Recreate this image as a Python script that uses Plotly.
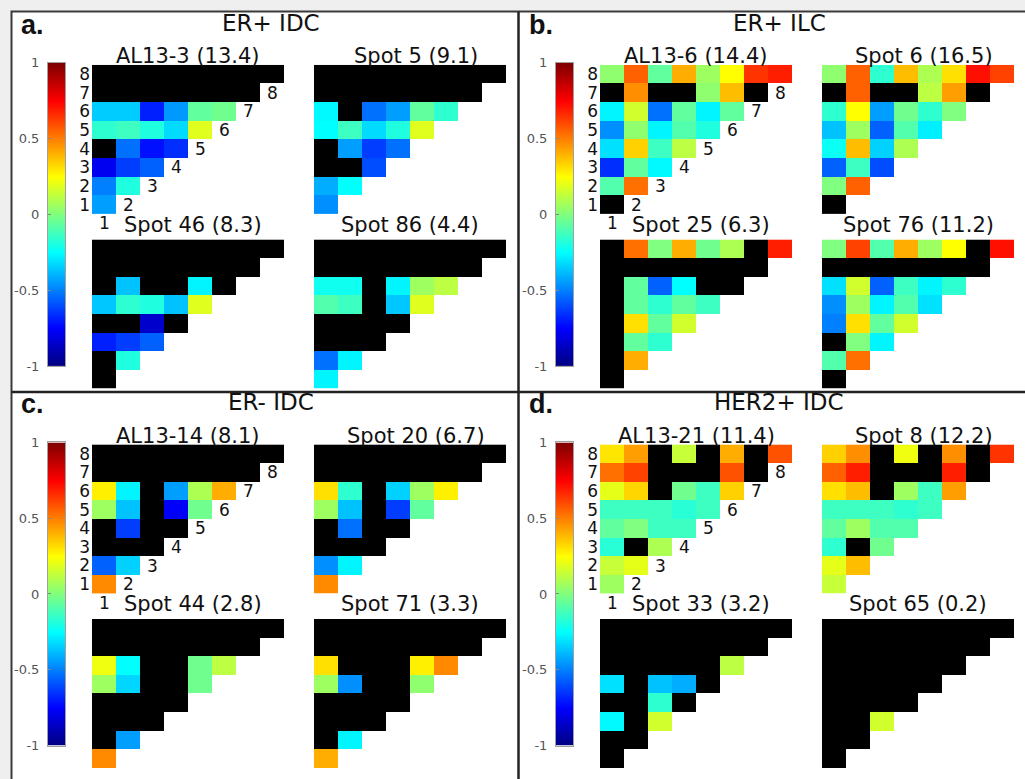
import plotly.graph_objects as go

NS = None  # non-significant pair, drawn in black

# ---------------------------------------------------------------
# Correlation matrices: rows listed from 8 (top) down to 1 (bottom);
# row r holds columns 1..r.
# ---------------------------------------------------------------

# a. ER+ IDC
AL13_3 = [
    [NS] * 8,
    [NS] * 7,
    [-0.35, -0.35, -0.69, -0.45, -0.06, -0.03],
    [-0.16, -0.13, -0.19, -0.32, 0.19],
    [NS, -0.53, -0.72, -0.66],
    [-0.78, -0.63, -0.56],
    [-0.50, -0.19],
    [-0.44],
]
SPOT_5 = [
    [NS] * 8,
    [NS] * 7,
    [-0.26, NS, -0.53, -0.44, -0.06, -0.16],
    [-0.25, -0.13, -0.32, -0.19, 0.19],
    [NS, -0.44, -0.63, -0.53],
    [NS, NS, -0.60],
    [-0.41, -0.25],
    [-0.47],
]
SPOT_46 = [
    [NS] * 8,
    [NS] * 7,
    [NS, -0.37, NS, NS, -0.27, NS],
    [-0.36, -0.16, -0.19, -0.37, 0.19],
    [NS, NS, -0.85, NS],
    [-0.69, -0.63, -0.56],
    [NS, -0.19],
    [NS],
]
SPOT_86 = [
    [NS] * 8,
    [NS] * 7,
    [-0.22, -0.22, NS, -0.27, 0.06, 0.12],
    [-0.09, -0.13, NS, -0.36, 0.19],
    [NS, NS, NS, NS],
    [NS, NS, NS],
    [-0.53, -0.27],
    [-0.27],
]

# b. ER+ ILC
AL13_6 = [
    [0.03, 0.56, -0.06, 0.41, 0.06, 0.25, 0.65, 0.69],
    [NS, 0.47, NS, NS, 0.03, 0.38, NS],
    [-0.27, 0.16, -0.53, -0.06, -0.27, -0.06],
    [-0.47, 0.03, -0.27, -0.09, -0.19],
    [-0.31, 0.34, -0.13, 0.12],
    [-0.66, -0.06, -0.26],
    [-0.09, 0.53],
    [NS],
]
SPOT_6 = [
    [0.03, 0.56, -0.16, 0.38, 0.09, 0.31, 0.72, 0.62],
    [NS, 0.56, NS, NS, 0.12, 0.44, NS],
    [-0.16, 0.25, -0.44, -0.03, -0.16, 0.00],
    [-0.37, 0.06, -0.56, -0.09, -0.28],
    [-0.23, 0.38, -0.34, 0.09],
    [-0.56, -0.13, -0.60],
    [0.00, 0.56],
    [NS],
]
SPOT_25 = [
    [NS, 0.53, 0.00, 0.41, -0.03, 0.09, NS, 0.69],
    [NS] * 7,
    [NS, -0.06, -0.56, -0.25, NS, NS],
    [NS, -0.06, -0.16, -0.06, -0.13],
    [NS, 0.31, -0.06, 0.16],
    [NS, -0.06, -0.16],
    [NS, 0.41],
    [NS],
]
SPOT_76 = [
    [0.00, 0.62, -0.09, 0.41, 0.06, 0.25, NS, 0.72],
    [NS] * 7,
    [-0.31, 0.16, -0.56, -0.13, -0.27, -0.16],
    [-0.47, 0.06, -0.27, -0.09, -0.31],
    [-0.50, 0.31, -0.06, 0.16],
    [NS, 0.00, -0.27],
    [-0.09, 0.53],
    [NS],
]

# c. ER- IDC
AL13_14 = [
    [NS] * 8,
    [NS] * 7,
    [0.28, -0.27, NS, -0.44, 0.09, 0.41],
    [0.06, -0.37, NS, -0.76, -0.03],
    [NS, -0.63, NS, NS],
    [NS, NS, NS],
    [-0.56, -0.34],
    [0.48],
]
SPOT_20 = [
    [NS] * 8,
    [NS] * 7,
    [0.31, -0.16, NS, -0.34, 0.06, 0.28],
    [0.06, -0.37, NS, -0.63, -0.06],
    [NS, -0.53, NS, NS],
    [NS, NS, NS],
    [-0.47, -0.27],
    [0.48],
]
SPOT_44 = [
    [NS] * 8,
    [NS] * 7,
    [0.22, -0.25, NS, NS, -0.03, 0.12],
    [0.06, -0.33, NS, NS, -0.03],
    [NS, NS, NS, NS],
    [NS, NS, NS],
    [NS, -0.44],
    [0.48],
]
SPOT_71 = [
    [NS] * 8,
    [NS] * 7,
    [0.31, NS, NS, NS, 0.28, 0.48],
    [0.06, -0.47, NS, NS, 0.03],
    [NS, NS, NS, NS],
    [NS, NS, NS],
    [NS, -0.27],
    [0.41],
]

# d. HER2+ IDC
AL13_21 = [
    [0.30, 0.44, NS, 0.14, NS, 0.41, NS, 0.59],
    [0.53, 0.62, NS, NS, NS, 0.59, NS],
    [0.20, 0.33, NS, -0.03, -0.13, 0.34],
    [-0.13, -0.13, -0.13, -0.17, -0.13],
    [-0.06, 0.00, -0.13, -0.13],
    [-0.17, NS, 0.09],
    [0.14, 0.20],
    [0.06],
]
SPOT_8 = [
    [0.34, 0.47, NS, 0.22, NS, 0.47, NS, 0.65],
    [0.56, 0.69, NS, NS, NS, 0.69, NS],
    [0.31, 0.38, NS, 0.06, -0.13, 0.44],
    [-0.13, -0.13, -0.13, -0.16, -0.13],
    [-0.06, 0.06, -0.09, -0.09],
    [-0.16, NS, -0.03],
    [0.20, 0.38],
    [0.14],
]
SPOT_33 = [
    [NS] * 8,
    [NS] * 7,
    [NS, NS, NS, NS, NS, 0.12],
    [-0.31, NS, -0.37, -0.41, NS],
    [NS, NS, -0.16, NS],
    [-0.26, NS, 0.16],
    [NS, NS],
    [NS],
]
SPOT_65 = [
    [NS] * 8,
    [NS] * 7,
    [NS] * 6,
    [NS] * 5,
    [NS] * 4,
    [NS, NS, 0.16],
    [NS, NS],
    [NS],
]

PANEL_LABELS = ["a.", "b.", "c.", "d."]
PANEL_TITLES = ["ER+ IDC", "ER+ ILC", "ER- IDC", "HER2+ IDC"]
SAMPLE_NAMES = [
    ["AL13-3", "Spot 5", "Spot 46", "Spot 86"],
    ["AL13-6", "Spot 6", "Spot 25", "Spot 76"],
    ["AL13-14", "Spot 20", "Spot 44", "Spot 71"],
    ["AL13-21", "Spot 8", "Spot 33", "Spot 65"],
]
SAMPLE_SCORES = [
    [13.4, 9.1, 8.3, 4.4],
    [14.4, 16.5, 6.3, 11.2],
    [8.1, 6.7, 2.8, 3.3],
    [11.4, 12.2, 3.2, 0.2],
]
MATRICES = [
    [AL13_3, SPOT_5, SPOT_46, SPOT_86],
    [AL13_6, SPOT_6, SPOT_25, SPOT_76],
    [AL13_14, SPOT_20, SPOT_44, SPOT_71],
    [AL13_21, SPOT_8, SPOT_33, SPOT_65],
]
INDICES = [1, 2, 3, 4, 5, 6, 7, 8]
CBAR_LIMITS = [-1, 1]
CBAR_TICKS = [-1, -0.5, 0, 0.5, 1]
CBAR_TICKTEXT = ["-1", "-0.5", "0", "0.5", "1"]

# MATLAB-style jet colormap
JET = [
    [0.0, "#000080"],
    [0.125, "#0000ff"],
    [0.375, "#00ffff"],
    [0.625, "#ffff00"],
    [0.875, "#ff0000"],
    [1.0, "#800000"],
]
BLACK = [[0, "#000000"], [1, "#000000"]]

# ---------------------------------------------------------------
# Page geometry (pixels)
# ---------------------------------------------------------------
W, H = 1025, 779
FONT = "DejaVu Sans"
ROW_PX = 19  # height of one matrix row


def fx(x):
    return x / W


def fy(y):
    return 1 - y / H


PANEL_DX = [0, 508, 0, 508]
PANEL_DY = [0, 0, 387, 387]
BOXES = [(92, 59, 284, 211), (314, 59, 506, 211),
         (92, 237, 284, 389), (314, 237, 506, 389)]
CBAR_BOX = (48, 57, 65, 366)
SUB_Y = [50, 50, 222, 222]
SUB_SHIFT = [0, 6, 5, 0]

fig = go.Figure()
layout = {}
annotations = []
shapes = []

# page frame and panel separators
shapes.append(dict(type="rect", xref="paper", yref="paper",
                   x0=fx(11.5), x1=fx(1040), y0=fy(800), y1=fy(4.5),
                   fillcolor="white", line=dict(color="#3a3a3a", width=2),
                   layer="below"))
shapes.append(dict(type="line", xref="paper", yref="paper",
                   x0=fx(518.5), x1=fx(518.5), y0=fy(790), y1=fy(4.5),
                   line=dict(color="#222222", width=2.5)))
shapes.append(dict(type="line", xref="paper", yref="paper",
                   x0=fx(11.5), x1=fx(1040), y0=fy(392.5), y1=fy(392.5),
                   line=dict(color="#222222", width=2.5)))

ax = 0
for p in range(4):
    dx, dy = PANEL_DX[p], PANEL_DY[p]

    annotations.append(dict(xref="paper", yref="paper", x=fx(dx + 271), y=fy(dy + 16),
                            text=PANEL_TITLES[p], showarrow=False,
                            xanchor="center", yanchor="middle",
                            font=dict(family=FONT, size=23, color="#111")))
    annotations.append(dict(xref="paper", yref="paper", x=fx(dx + 19), y=fy(dy + 18),
                            text="<b>%s</b>" % PANEL_LABELS[p], showarrow=False,
                            xanchor="left", yanchor="middle",
                            font=dict(family="Liberation Sans", size=27, color="#111")))

    for k in range(4):
        ax += 1
        mat = MATRICES[p][k]
        x0, y0, x1, y1 = BOXES[k]
        x0 += dx; x1 += dx; y0 += dy; y1 += dy

        # rows bottom-up, padded with None outside the lower triangle
        rows = list(reversed(mat))
        zc, zm = [], []
        for r, row in enumerate(rows):
            crow, mrow = [], []
            for c in range(8):
                if c < len(row):
                    v = row[c]
                    crow.append(v)
                    mrow.append(1 if v is None else None)
                else:
                    crow.append(None)
                    mrow.append(None)
            zc.append(crow)
            zm.append(mrow)

        sx = "" if ax == 1 else str(ax)
        fig.add_trace(go.Heatmap(z=zm, x=INDICES, y=INDICES, colorscale=BLACK,
                                 zmin=0, zmax=1, showscale=False, hoverinfo="skip",
                                 xaxis="x" + sx, yaxis="y" + sx))
        fig.add_trace(go.Heatmap(z=zc, x=INDICES, y=INDICES, colorscale=JET,
                                 zmin=-1, zmax=1, showscale=False,
                                 xaxis="x" + sx, yaxis="y" + sx))

        first = (k == 0)
        # the labelled matrix gets one extra row below it for the column index "1"
        ybot = y1 + (ROW_PX if first else 0)
        ylo = -0.5 if first else 0.5
        layout["xaxis" + sx] = dict(domain=[fx(x0), fx(x1)], range=[0.5, 8.5],
                                    anchor="y" + sx, visible=False, fixedrange=True)
        layout["yaxis" + sx] = dict(domain=[fy(ybot), fy(y0)], range=[ylo, 8.5],
                                    anchor="x" + sx, showgrid=False, zeroline=False,
                                    showline=False, ticks="",
                                    showticklabels=first, tickvals=INDICES,
                                    ticktext=[str(i) for i in INDICES],
                                    tickfont=dict(family=FONT, size=17, color="#111"),
                                    ticklabelstandoff=1,
                                    fixedrange=True)
        if first:
            for c in INDICES:
                annotations.append(dict(xref="x" + sx, yref="y" + sx, x=c, y=c - 1,
                                        text=str(c), showarrow=False,
                                        font=dict(family=FONT, size=17, color="#111")))

        annotations.append(dict(xref="paper", yref="paper",
                                x=fx((x0 + x1) / 2 + SUB_SHIFT[k]), y=fy(dy + SUB_Y[k]),
                                text="%s (%s)" % (SAMPLE_NAMES[p][k], SAMPLE_SCORES[p][k]),
                                showarrow=False, xanchor="center", yanchor="middle",
                                font=dict(family=FONT, size=21, color="#111")))

    # colour bar for the panel
    ax += 1
    sx = str(ax)
    cx0, cy0, cx1, cy1 = CBAR_BOX
    fig.add_trace(go.Heatmap(z=[[CBAR_LIMITS[0]] * 2, [CBAR_LIMITS[1]] * 2],
                             x=[0, 1], y=CBAR_LIMITS, colorscale=JET,
                             zmin=CBAR_LIMITS[0], zmax=CBAR_LIMITS[1],
                             zsmooth="best", showscale=False, hoverinfo="skip",
                             xaxis="x" + sx, yaxis="y" + sx))
    layout["xaxis" + sx] = dict(domain=[fx(cx0 + dx), fx(cx1 + dx)], range=[0, 1],
                                anchor="y" + sx, showticklabels=False, ticks="",
                                showgrid=False, zeroline=False, showline=True,
                                mirror=True, linecolor="#a0a0a0", linewidth=1,
                                fixedrange=True)
    layout["yaxis" + sx] = dict(domain=[fy(cy1 + dy), fy(cy0 + dy)], range=CBAR_LIMITS,
                                anchor="x" + sx, side="left", showgrid=False,
                                zeroline=False, showline=True, mirror=True,
                                linecolor="#a0a0a0", linewidth=1,
                                ticks="inside", ticklen=3, tickcolor="#888",
                                tickvals=CBAR_TICKS, ticktext=CBAR_TICKTEXT,
                                tickfont=dict(family=FONT, size=13, color="#555"),
                                ticklabelstandoff=5, fixedrange=True)

fig.update_layout(
    width=W, height=H,
    margin=dict(l=0, r=0, t=0, b=0),
    paper_bgcolor="#efefef",
    plot_bgcolor="rgba(0,0,0,0)",
    showlegend=False,
    annotations=annotations,
    shapes=shapes,
    **layout,
)

fig.write_html("out.html", config={"displayModeBar": False})
